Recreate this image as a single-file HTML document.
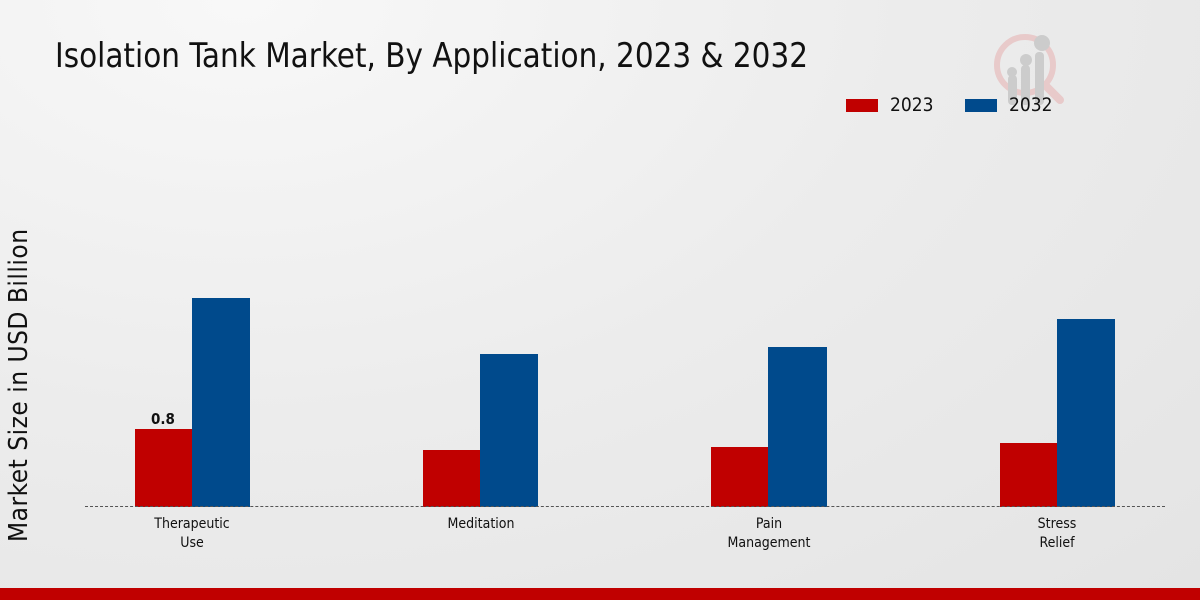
<!DOCTYPE html>
<html><head><style>
body{margin:0;width:1200px;height:600px;overflow:hidden;font-family:"DejaVu Sans Condensed","Liberation Sans",sans-serif;}
.bg{position:absolute;left:0;top:0;width:1200px;height:600px;background:radial-gradient(ellipse at 20% 0%,#f8f8f8 0%,#ececec 50%,#e4e4e4 100%);}
.t{position:absolute;white-space:nowrap;color:#111;}
.bar{position:absolute;}
.r{background:#c00000}.b{background:#004a8c}
.lab{position:absolute;font-size:14px;text-align:center;width:140px;line-height:19px;color:#111;}
</style></head><body>
<div class="bg"></div>
<div class="t" style="left:55px;top:36px;font-size:34px;transform:scaleX(0.965);transform-origin:left;">Isolation Tank Market, By Application, 2023 &amp; 2032</div>
<svg style="position:absolute;left:990px;top:30px" width="85" height="85">
<circle cx="35" cy="35" r="28" fill="none" stroke="#e8caca" stroke-width="6"/>
<line x1="55" y1="55" x2="70" y2="70" stroke="#e8caca" stroke-width="8" stroke-linecap="round"/>
<rect x="18" y="45" width="9" height="30" rx="4" fill="#ccc"/><rect x="31" y="35" width="9" height="40" rx="4" fill="#ccc"/><rect x="45" y="22" width="9" height="53" rx="4" fill="#ccc"/>
<circle cx="22" cy="42" r="5" fill="#ccc"/><circle cx="36" cy="30" r="6" fill="#ccc"/><circle cx="52" cy="13" r="8" fill="#ccc"/>
</svg>
<div class="bar r" style="left:846px;top:99px;width:32px;height:13px"></div>
<div class="t" style="left:890px;top:94px;font-size:19px">2023</div>
<div class="bar b" style="left:965px;top:99px;width:32px;height:13px"></div>
<div class="t" style="left:1009px;top:94px;font-size:19px">2032</div>
<div class="t" style="left:4px;top:542px;font-size:26px;transform:rotate(-90deg);transform-origin:left top;letter-spacing:0.5px">Market Size in USD Billion</div>
<div class="bar r" style="left:135px;top:429px;width:57px;height:78px"></div>
<div class="bar b" style="left:192px;top:298px;width:58px;height:209px"></div>
<div class="bar r" style="left:423px;top:450px;width:57px;height:57px"></div>
<div class="bar b" style="left:480px;top:354px;width:58px;height:153px"></div>
<div class="bar r" style="left:711px;top:447px;width:57px;height:60px"></div>
<div class="bar b" style="left:768px;top:347px;width:59px;height:160px"></div>
<div class="bar r" style="left:1000px;top:443px;width:57px;height:64px"></div>
<div class="bar b" style="left:1057px;top:319px;width:58px;height:188px"></div>
<div class="t" style="left:151px;top:410px;font-size:15px;font-weight:bold">0.8</div>
<div style="position:absolute;left:85px;top:506px;width:1080px;border-top:1.5px dashed #555"></div>
<div class="lab" style="left:122px;top:515px">Therapeutic<br>Use</div>
<div class="lab" style="left:411px;top:515px">Meditation</div>
<div class="lab" style="left:699px;top:515px">Pain<br>Management</div>
<div class="lab" style="left:987px;top:515px">Stress<br>Relief</div>
<div style="position:absolute;left:0;top:588px;width:1200px;height:12px;background:#c00000"></div>
</body></html>
